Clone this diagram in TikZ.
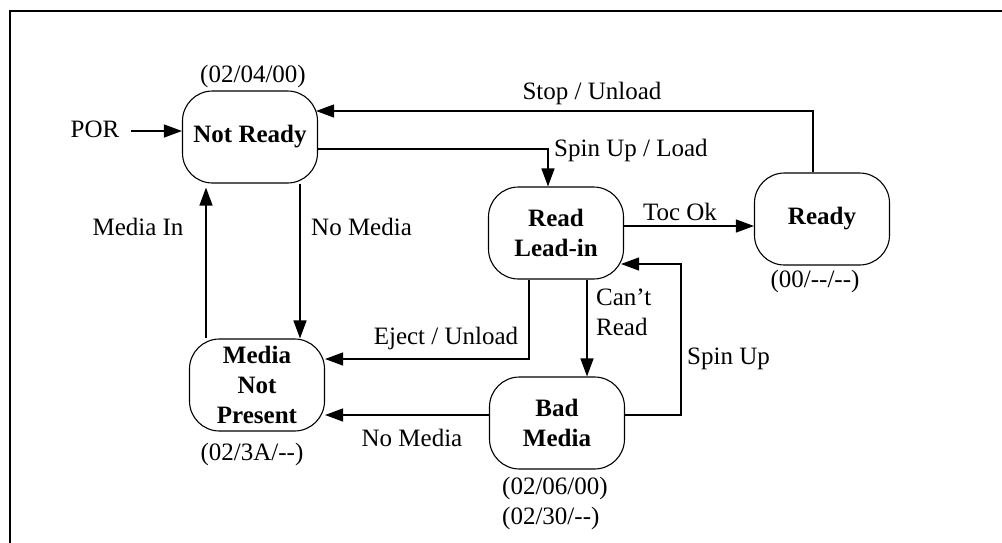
\documentclass[tikz,border=0pt]{standalone}
\usepackage{fontspec}
\setmainfont{Liberation Serif}
\usetikzlibrary{arrows.meta}
\begin{document}
\begin{tikzpicture}[x=1pt,y=-1pt,
  every node/.style={font=\fontsize{25}{30}\selectfont, inner sep=1pt},
  state/.style={draw, line width=1.1pt, rounded corners=30pt,
    minimum width=135pt, minimum height=92pt, inner sep=0pt,
    align=center, font=\fontsize{25}{30}\selectfont\bfseries},
  arr/.style={line width=1.2pt, -{Triangle[length=18pt,width=13pt]}},
  lbl/.style={align=left},
  frame/.style={line width=2.5pt, line cap=rect}]
  \useasboundingbox (0,0) rectangle (1002,542);

  % outer frame
  \draw[frame] (1004,11) -- (10,11) -- (10,544);

  % states
  \node[state] (nr)  at (250,137) {Not Ready};
  \node[state] (rl)  at (556,233) {Read\\Lead-in};
  \node[state] (rdy) at (822,219) {Ready};
  \node[state] (mnp) at (257,385) {Media\\Not\\Present};
  \node[state] (bm)  at (557,423) {Bad\\Media};

  % sense codes
  \node (cnr)  at (253,76)  {(02/04/00)};
  \node (crdy) at (815,281) {(00/-{}-/-{}-)};
  \node (cmnp) at (252,454) {(02/3A/-{}-)};
  \node[lbl, anchor=north west] (cbm) at (501,476) {(02/06/00)\\(02/30/-{}-)};

  % power-on reset
  \node (por) at (95,129) {POR};
  \draw[arr] ([xshift=10pt,yshift=-2pt]por.east) -- ([yshift=-2pt]por.east -| nr.west);

  % Stop / Unload
  \coordinate (su) at (813,111);
  \draw[arr, shorten >=-2pt] (rdy.north -| su) -- (su) -- (su -| nr.east);
  \node (lsu) at (592,93) {Stop / Unload};

  % Spin Up / Load
  \draw[arr] ([yshift=-12pt]nr.east) -| ([xshift=-8pt]rl.north);
  \node[anchor=west] (lsl) at (553,150) {Spin Up / Load};

  % Toc Ok
  \draw[arr] ([yshift=7pt]rl.east) -- ([yshift=7pt]rl.east -| rdy.west);
  \node (ltoc) at (680,212) {Toc Ok};

  % Spin Up back to lead-in
  \draw[arr, shorten >=-3pt] ([yshift=8pt]bm.east) -- ++(56,0) |- ([yshift=-31pt]rl.east);
  \node[anchor=west] (lspin) at (686,359) {Spin Up};

  % Can't Read
  \draw[arr] ([xshift=31pt]rl.south) -- ([xshift=31pt]rl.south |- bm.north);
  \node[lbl, anchor=west] (lcr) at (595,312) {Can't\\Read};

  % Eject / Unload
  \draw[arr] ([xshift=-27pt]rl.south) |- ([yshift=26pt]mnp.east);
  \node (lej) at (446,338) {Eject / Unload};

  % No Media from bad media
  \draw[arr] ([yshift=8pt]bm.west) -- ([yshift=8pt]bm.west -| mnp.east);
  \node (lnm2) at (412,438) {No Media};

  % No Media from not ready
  \draw[arr] ([xshift=50pt]nr.south) -- ([xshift=50pt]nr.south |- mnp.north);
  \node[anchor=west] (lnm1) at (310,227) {No Media};

  % Media In
  \draw[arr, shorten >=4pt] ([xshift=-51pt]mnp.north) -- ([xshift=-51pt]mnp.north |- nr.south);
  \node (lmi) at (138,227) {Media In};
\end{tikzpicture}
\end{document}
